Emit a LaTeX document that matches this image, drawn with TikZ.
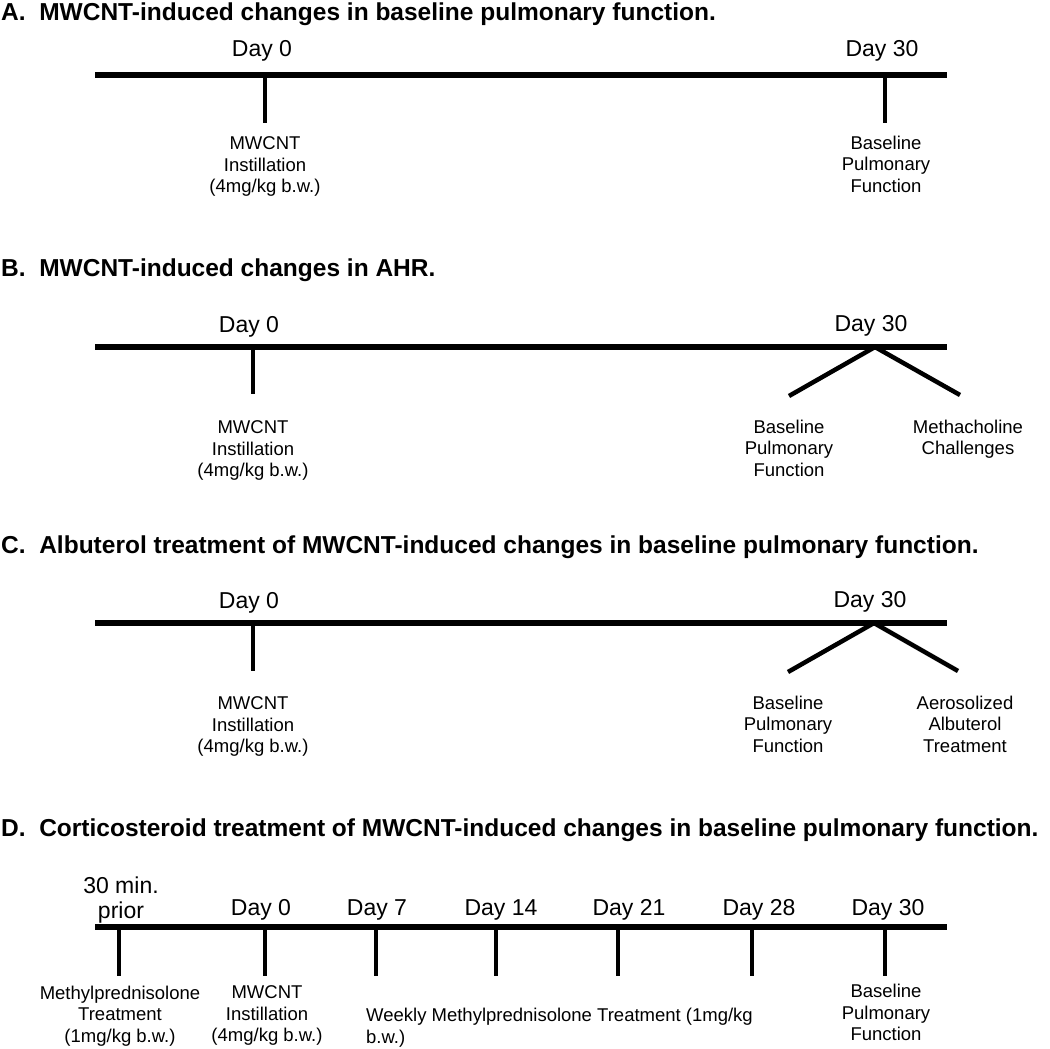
\documentclass[tikz,border=0pt]{standalone}
\usepackage{fontspec}
\setmainfont{Liberation Sans}
\usetikzlibrary{positioning}

\begin{document}
\begin{tikzpicture}[x=1pt, y=-1pt,
    ttl/.style={anchor=base west, inner sep=0pt, font=\fontsize{24.5}{28}\selectfont\bfseries},
    day/.style={anchor=base, inner sep=0pt, font=\fontsize{23}{24}\selectfont},
    lbl/.style={anchor=north, inner sep=0pt, align=center, font=\fontsize{18.5}{21.5}\selectfont},
    axis/.style={line width=5.5pt},
    tck/.style={line width=4pt},
    brn/.style={line width=4.5pt}]
  \useasboundingbox (0,0) rectangle (1050,1049);
  %
  % A
  \node[ttl] (ttlA) at (1,21) {A.\ \ MWCNT-induced changes in baseline pulmonary function.};
  \coordinate (axA0) at (95,75);
  \coordinate (axA1) at (947,75);
  \draw[axis] (axA0) -- (axA1);
  \foreach \x/\n in {265/0, 885/1} {
    \coordinate (tA\n) at (\x,75);
    \coordinate (tA\n e) at (\x,123);
    \draw[tck] (tA\n) -- (tA\n e);
  }
  \node[day] (dayA0) at (262,57) {Day 0};
  \node[day] (dayA1) at (882,57) {Day 30};
  \node[lbl] (lblA0) at (265,136.5) {MWCNT\\Instillation\\(4mg/kg b.w.)};
  \node[lbl] (lblA1) at (886,135.5) {Baseline\\Pulmonary\\Function};
  %
  % B
  \node[ttl] (ttlB) at (1,276) {B.\ \ MWCNT-induced changes in AHR.};
  \coordinate (axB0) at (95,347);
  \coordinate (axB1) at (947,347);
  \draw[axis] (axB0) -- (axB1);
  \coordinate (tB0) at (253,347);
  \coordinate (tB0e) at (253,394);
  \draw[tck] (tB0) -- (tB0e);
  \coordinate (apB) at (875,347);
  \coordinate (brB0) at (789,396);
  \coordinate (brB1) at (960,395);
  \draw[brn] (brB0) -- (apB) -- (brB1);
  \node[day] (dayB0) at (249,332) {Day 0};
  \node[day] (dayB1) at (871,331) {Day 30};
  \node[lbl] (lblB0) at (253,420.5) {MWCNT\\Instillation\\(4mg/kg b.w.)};
  \node[lbl] (lblB1) at (789,419.5) {Baseline\\Pulmonary\\Function};
  \node[lbl] (lblB2) at (968,419.5) {Methacholine\\Challenges};
  %
  % C
  \node[ttl] (ttlC) at (1,553) {C.\ \ Albuterol treatment of MWCNT-induced changes in baseline pulmonary function.};
  \coordinate (axC0) at (95,623);
  \coordinate (axC1) at (947,623);
  \draw[axis] (axC0) -- (axC1);
  \coordinate (tC0) at (253,623);
  \coordinate (tC0e) at (253,671);
  \draw[tck] (tC0) -- (tC0e);
  \coordinate (apC) at (874,623);
  \coordinate (brC0) at (788,672);
  \coordinate (brC1) at (958,671);
  \draw[brn] (brC0) -- (apC) -- (brC1);
  \node[day] (dayC0) at (249,608) {Day 0};
  \node[day] (dayC1) at (870,607) {Day 30};
  \node[lbl] (lblC0) at (253,696.5) {MWCNT\\Instillation\\(4mg/kg b.w.)};
  \node[lbl] (lblC1) at (788,695.5) {Baseline\\Pulmonary\\Function};
  \node[lbl] (lblC2) at (965,695.5) {Aerosolized\\Albuterol\\Treatment};
  %
  % D
  \node[ttl] (ttlD) at (1,836) {D.\ \ Corticosteroid treatment of MWCNT-induced changes in baseline pulmonary function.};
  \coordinate (axD0) at (95,927);
  \coordinate (axD1) at (947,927);
  \draw[axis] (axD0) -- (axD1);
  \foreach \x/\n in {119/0, 265/1, 376/2, 496/3, 618/4, 752/5, 885/6} {
    \coordinate (tD\n) at (\x,927);
    \coordinate (tD\n e) at (\x,976);
    \draw[tck] (tD\n) -- (tD\n e);
  }
  \node[day, anchor=south, align=center, font=\fontsize{23}{25}\selectfont] (dayD0) at (121,923) {30 min.\\prior};
  \foreach \x/\t/\n in {261/0/1, 377/7/2, 501/14/3, 629/21/4, 759/28/5, 888/30/6}
    \node[day] (dayD\n) at (\x,915) {Day \t};
  \node[lbl] (lblD0) at (120,985.5) {Methylprednisolone\\Treatment\\(1mg/kg b.w.)};
  \node[lbl] (lblD1) at (267,985.5) {MWCNT\\Instillation\\(4mg/kg b.w.)};
  \node[lbl, anchor=north west, align=left] (lblD2) at (366,1008) {Weekly Methylprednisolone Treatment (1mg/kg\\b.w.)};
  \node[lbl] (lblD3) at (886,984) {Baseline\\Pulmonary\\Function};
\end{tikzpicture}
\end{document}
